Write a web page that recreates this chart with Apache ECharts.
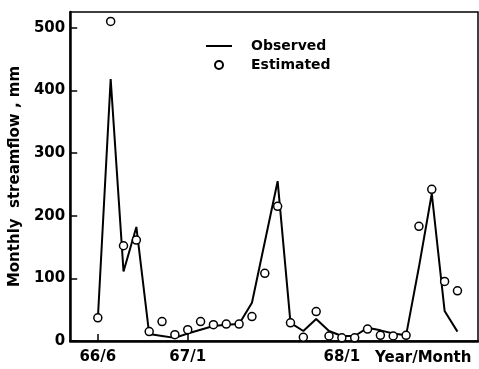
<!DOCTYPE html>
<html>
<head>
<meta charset="utf-8">
<script src="https://cdn.jsdelivr.net/npm/echarts@6/dist/echarts.min.js"></script>
<style>
  html, body { margin: 0; padding: 0; background: #fff; }
  #chart { width: 479px; height: 369px; }
</style>
</head>
<body>
<div id="chart"></div>
<script>
// Monthly streamflow, June 1966 through October 1968
const months = [
  '66/6', '66/7', '66/8', '66/9', '66/10', '66/11', '66/12',
  '67/1', '67/2', '67/3', '67/4', '67/5', '67/6', '67/7', '67/8', '67/9', '67/10', '67/11', '67/12',
  '68/1', '68/2', '68/3', '68/4', '68/5', '68/6', '68/7', '68/8', '68/9', '68/10'
];
const observed = [
  35, 418, 111, 182, 11, 8, 5,
  12, 18, 24, 26, 27, 61, 158, 255, 29, 16, 35, 16,
  8, 8, 21, 17, 12, 9, 118, 235, 48, 15
];
const estimated = [
  37, 510, 152, 161, 15, 31, 10,
  18, 31, 26, 27, 27, 39, 108, 215, 29, 6, 47, 8,
  5, 5, 19, 9, 8, 9, 183, 242, 95, 80
];
const xTickMonths = ['66/6', '67/1', '68/1'];
const yTicks = [0, 100, 200, 300, 400, 500];

const FONT = 'DejaVu Sans';
const xTickIdx = xTickMonths.map(m => months.indexOf(m));

const chart = echarts.init(document.getElementById('chart'), null, { renderer: 'canvas' });
chart.setOption({
  backgroundColor: '#fff',
  animation: false,
  grid: {
    left: 64, right: 1, top: 12, bottom: 28,
    show: true, borderColor: '#000', borderWidth: 1.5
  },
  legend: {
    orient: 'vertical',
    left: 200, top: 34,
    itemWidth: 26, itemHeight: 8, itemGap: 5,
    textStyle: { fontFamily: FONT, fontWeight: 'bold', fontSize: 14, color: '#000', padding: [0, 0, 0, 14] },
    data: [
      // plain line swatch: the marker part of the line icon is made invisible
      { name: 'Observed', itemStyle: { color: 'rgba(0,0,0,0)', borderColor: 'rgba(0,0,0,0)', borderWidth: 0 } },
      { name: 'Estimated', icon: 'circle' }
    ]
  },
  xAxis: {
    type: 'value',
    min: -2.15, max: 29.6,
    splitLine: { show: false },
    axisLine: { show: true, onZero: false, lineStyle: { color: '#000', width: 2.5 } },
    axisTick: { show: true, inside: true, length: 7, customValues: xTickIdx, lineStyle: { color: '#000', width: 1.5 } },
    axisLabel: {
      customValues: xTickIdx,
      formatter: v => months[Math.round(v)],
      fontFamily: FONT, fontWeight: 'bold', fontSize: 15, color: '#000', margin: 9
    }
  },
  yAxis: {
    type: 'value',
    min: 0, max: 525,
    name: 'Monthly  streamflow , mm',
    nameLocation: 'middle',
    nameGap: 46,
    nameRotate: 90,
    nameTextStyle: { fontFamily: FONT, fontWeight: 'bold', fontSize: 15, color: '#000' },
    splitLine: { show: false },
    axisLine: { show: true, onZero: false, lineStyle: { color: '#000', width: 2.5 } },
    axisTick: { show: true, inside: true, length: 7, customValues: yTicks, lineStyle: { color: '#000', width: 1.5 } },
    axisLabel: {
      customValues: yTicks,
      fontFamily: FONT, fontWeight: 'bold', fontSize: 15, color: '#000', margin: 5
    }
  },
  graphic: [{
    type: 'text',
    left: 375, top: 351,
    style: { text: 'Year/Month', fontFamily: FONT, fontWeight: 'bold', fontSize: 15, fill: '#000' }
  }],
  series: [
    {
      name: 'Observed',
      type: 'line',
      data: observed.map((v, i) => [i, v]),
      symbol: 'none',
      lineStyle: { color: '#000', width: 2 },
      itemStyle: { color: '#000' },
      z: 2
    },
    {
      name: 'Estimated',
      type: 'scatter',
      data: estimated.map((v, i) => [i, v]),
      symbol: 'circle',
      symbolSize: 8,
      itemStyle: { color: '#fff', borderColor: '#000', borderWidth: 1.5, opacity: 1 },
      z: 3
    }
  ]
});
</script>
</body>
</html>
